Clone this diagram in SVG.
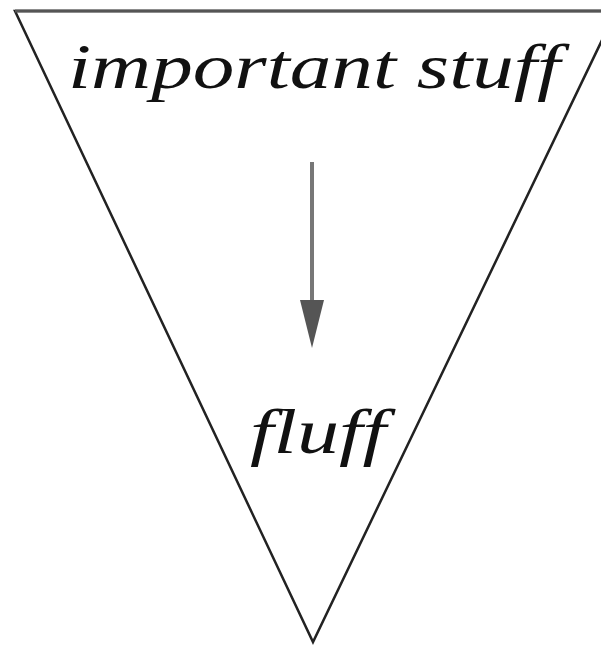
<svg xmlns="http://www.w3.org/2000/svg" width="601" height="647" viewBox="0 0 601 647">
  <defs>
    <style>
      .edge { fill: none; stroke: #222; stroke-width: 2.5; stroke-linejoin: miter; }
      .label { font-family: "Liberation Serif", "DejaVu Serif", serif; font-style: italic; fill: #111; }
    </style>
    <marker id="head" markerWidth="48" markerHeight="24" refX="0" refY="12" orient="auto" markerUnits="userSpaceOnUse" viewBox="0 0 48 24">
      <path d="M0,0 L48,12 L0,24 Z" fill="#555"/>
    </marker>
  </defs>
  <rect width="601" height="647" fill="#fff"/>
  <g id="funnel">
    <path class="edge" d="M616,11 L15,11 L313,642 L616,11"/>
    <line x1="15" y1="11" x2="601" y2="11" stroke="#555" stroke-width="3"/>
  </g>
  <g id="important">
    <text class="label" x="68" y="88" font-size="64" textLength="492" lengthAdjust="spacingAndGlyphs">important stuff</text>
  </g>
  <g id="fluff">
    <text class="label" x="250" y="453" font-size="64" textLength="136" lengthAdjust="spacingAndGlyphs">fluff</text>
  </g>
  <g id="connectors">
    <line x1="312" y1="162" x2="312" y2="300" stroke="#777" stroke-width="4" marker-end="url(#head)"/>
  </g>
</svg>
